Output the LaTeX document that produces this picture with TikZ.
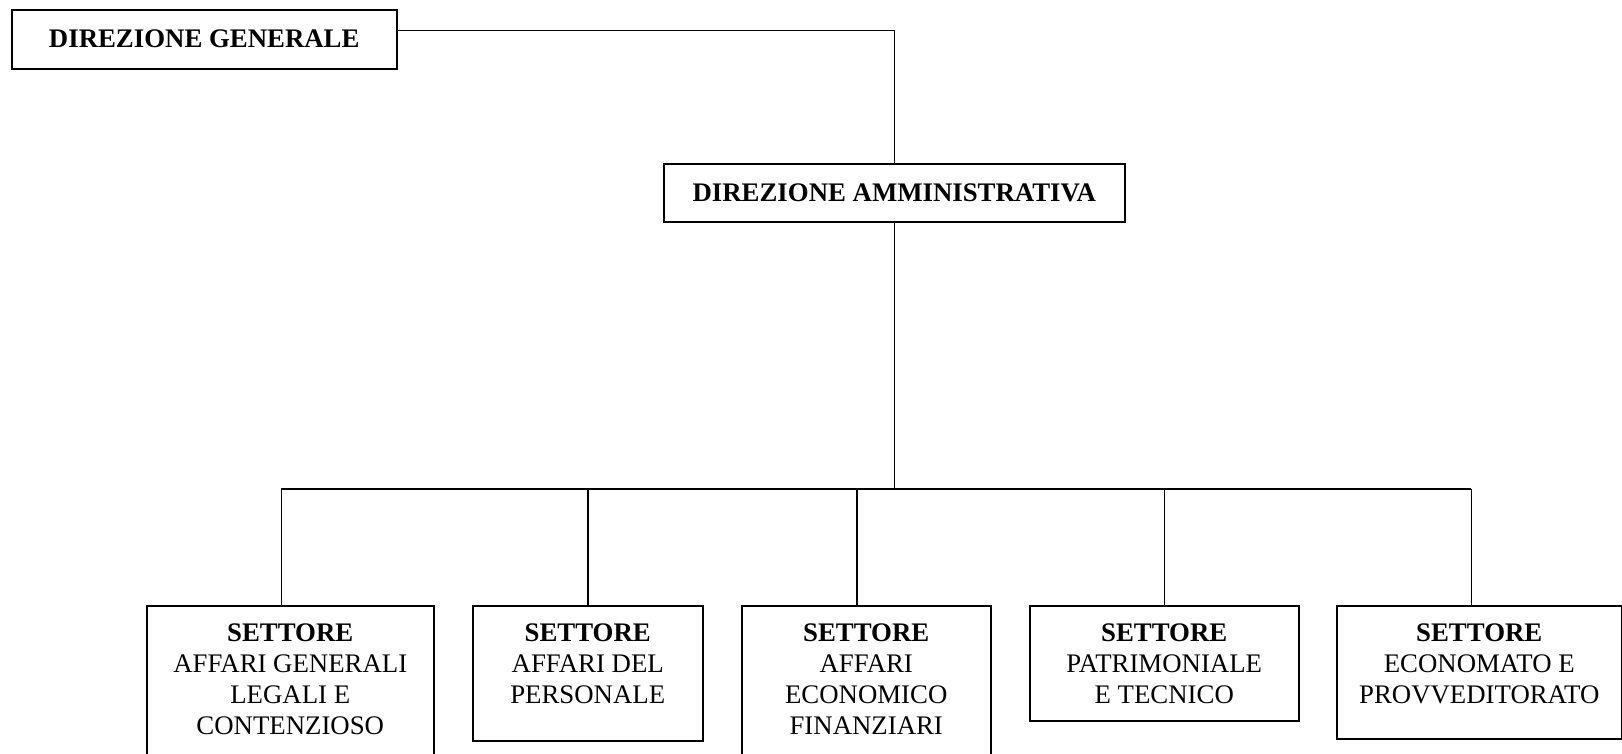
\documentclass[tikz,border=0pt]{standalone}
\usepackage{fontspec}
\setmainfont{Liberation Serif}
\begin{document}
\begin{tikzpicture}[x=1pt,y=-1pt,
  box/.style={draw=black, line width=1.5pt, rectangle, inner sep=0pt, anchor=north west},
  txt/.style={font=\fontsize{26.8}{31}\selectfont, align=center, inner sep=0pt},
  conn/.style={draw=black, line width=1.5pt}]
\useasboundingbox (0,0) rectangle (1622,753);
\fill[white] (0,0) rectangle (1622,753);
\clip (0,0) rectangle (1622,753);
% top boxes
\node[box, minimum width=385pt, minimum height=59pt] (dg) at (11,9) {};
\node[txt, font=\fontsize{26.8}{31}\selectfont\bfseries] (dgt) at (dg.center) {DIREZIONE GENERALE};
\node[box, minimum width=461pt, minimum height=58pt] (da) at (663,163) {};
\node[txt, font=\fontsize{26.8}{31}\selectfont\bfseries] (dat) at (da.center) {DIREZIONE AMMINISTRATIVA};
% bottom boxes
\node[box, minimum width=287pt, minimum height=170pt] (b1) at (146,605) {};
\node[box, minimum width=230pt, minimum height=135pt] (b2) at (472,605) {};
\node[box, minimum width=249pt, minimum height=170pt] (b3) at (741,605) {};
\node[box, minimum width=269pt, minimum height=115pt] (b4) at (1029,605) {};
\node[box, minimum width=285pt, minimum height=133pt] (b5) at (1336,605) {};
\node[txt, anchor=north] (t1) at ([yshift=-19pt]b1.north) {\textbf{SETTORE}\\AFFARI GENERALI\\LEGALI E\\CONTENZIOSO};
\node[txt, anchor=north] (t2) at ([yshift=-19pt]b2.north) {\textbf{SETTORE}\\AFFARI DEL\\PERSONALE};
\node[txt, anchor=north] (t3) at ([yshift=-19pt]b3.north) {\textbf{SETTORE}\\AFFARI\\ECONOMICO\\FINANZIARI};
\node[txt, anchor=north] (t4) at ([yshift=-19pt]b4.north) {\textbf{SETTORE}\\PATRIMONIALE\\E TECNICO};
\node[txt, anchor=north] (t5) at ([yshift=-19pt]b5.north) {\textbf{SETTORE}\\ECONOMATO E\\PROVVEDITORATO};
% connectors
\coordinate (bus) at (0,489);
\draw[conn] ([yshift=9pt]dg.east) -| (da.north);
\draw[conn] (da.south) -- (da.south |- bus);
\draw[conn] ([xshift=-9pt]b1.north |- bus) -- ([xshift=-8pt]b5.north |- bus);
\draw[conn] ([xshift=-9pt]b1.north) -- ([xshift=-9pt]b1.north |- bus);
\draw[conn] (b2.north) -- (b2.north |- bus);
\draw[conn] ([xshift=-9.5pt]b3.north) -- ([xshift=-9.5pt]b3.north |- bus);
\draw[conn] (b4.north) -- (b4.north |- bus);
\draw[conn] ([xshift=-8pt]b5.north) -- ([xshift=-8pt]b5.north |- bus);
\end{tikzpicture}
\end{document}
